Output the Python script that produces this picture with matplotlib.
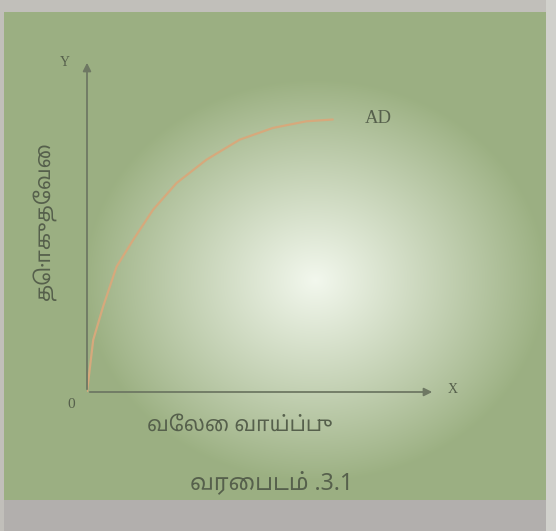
import numpy as np
import matplotlib
matplotlib.use("Agg")
import matplotlib.pyplot as plt

# AD curve (employment vs aggregate demand)
employment = [0.0, 0.25, 0.65, 1.19, 1.86, 2.66, 3.60, 4.81, 6.14, 7.48, 8.82, 9.89]
agg_demand = [0.0, 2.04, 3.35, 4.91, 5.96, 7.14, 8.18, 9.10, 9.88, 10.34, 10.60, 10.67]

x_label = "வேலை வாய்ப்பு"
y_label = "தொகுதேவை"
caption = "வரைபடம் .3.1"
curve_label = "AD"

tamil_fonts = ["Noto Sans Tamil", "Lohit Tamil", "Noto Sans", "DejaVu Sans"]
text_color = "#56604c"

W, H = 556, 531
fig = plt.figure(figsize=(W / 100, H / 100), dpi=100)

# photographed page: green paper with a bright glare in the middle
bg = fig.add_axes([0, 0, 1, 1])
yy, xx = np.mgrid[0:H, 0:W]
green = np.array([0.61, 0.69, 0.51])
white = np.array([0.95, 0.97, 0.93])
dist = np.sqrt(((xx - 315) / 230.0) ** 2 + ((yy - 280) / 200.0) ** 2)
glow = np.clip(1 - dist, 0, 1) ** 0.95
img = green + (white - green) * glow[..., None]
gray_top = np.array([0.76, 0.75, 0.73])
gray_bot = np.array([0.70, 0.69, 0.68])
img[:12] = gray_top
img[500:] = gray_bot
img[:, :4] = gray_top
img[:, 546:] = np.array([0.82, 0.82, 0.80])
bg.imshow(img, extent=[0, W, H, 0], aspect="auto")
bg.axis("off")

ax = fig.add_axes([87 / W, (H - 392) / H, 348 / W, 332 / H])
ax.patch.set_alpha(0)
ax.set_xlim(0, 14)
ax.set_ylim(0, 13)
ax.axis("off")

axis_color = "#6e7863"
ax.annotate("", xy=(14, 0), xytext=(0, 0),
            arrowprops=dict(arrowstyle="-|>", color=axis_color, lw=1.3,
                            mutation_scale=12), annotation_clip=False)
ax.annotate("", xy=(0, 13), xytext=(0, 0),
            arrowprops=dict(arrowstyle="-|>", color=axis_color, lw=1.3,
                            mutation_scale=12), annotation_clip=False)

ax.plot(employment, agg_demand, color="#d6a97c", lw=1.6,
        solid_capstyle="round", solid_joinstyle="round")

ax.text(11.7, 10.7, curve_label, color=text_color, fontsize=13.5,
        family="Liberation Serif", ha="center", va="center")
ax.text(-0.9, 12.9, "Y", color=text_color, fontsize=10,
        family="Liberation Serif", ha="center", va="center", clip_on=False)
ax.text(14.7, 0.1, "X", color=text_color, fontsize=10,
        family="Liberation Serif", ha="center", va="center", clip_on=False)
ax.text(-0.65, -0.5, "0", color=text_color, fontsize=11,
        family="Liberation Serif", ha="center", va="center", clip_on=False)

fig.text(45 / W, 1 - 222 / H, y_label, rotation=90, color=text_color,
         fontsize=15, family=tamil_fonts, ha="center", va="center")
fig.text(240 / W, 1 - 425 / H, x_label, color=text_color,
         fontsize=15, family=tamil_fonts, ha="center", va="center")
fig.text(272 / W, 1 - 483 / H, caption, color=text_color,
         fontsize=16.5, family=tamil_fonts, ha="center", va="center")

fig.savefig("out.png", dpi=100)
